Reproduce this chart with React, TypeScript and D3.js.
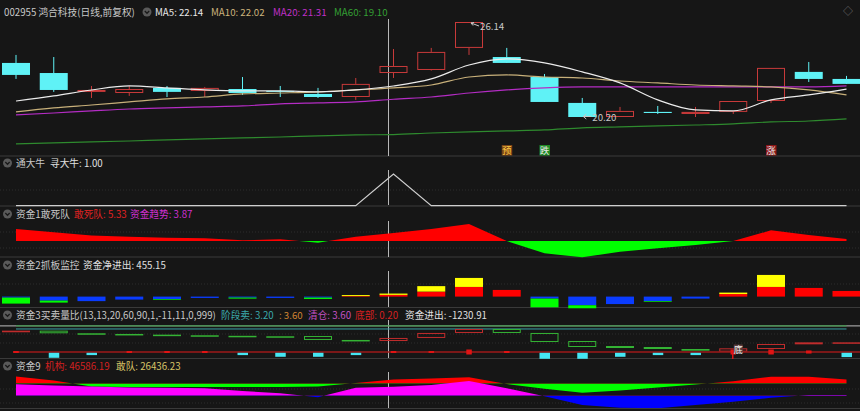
import { useEffect } from 'react'
import * as d3 from 'd3'

const N = 23
const idx = d3.range(N)

// 主图 K线 (日线, 前复权)
const open  = [23.58, 22.95, 21.77, 21.70, 22.02, 21.83, 21.95, 21.83, 21.64, 21.45, 22.95, 23.14, 24.52, 23.95, 22.70, 21.08, 20.20, 20.52, 20.39, 20.52, 21.20, 23.02, 22.58]
const high  = [24.08, 23.95, 22.14, 22.14, 22.14, 22.08, 22.70, 22.14, 22.02, 22.64, 24.45, 24.52, 26.14, 24.52, 22.89, 21.39, 20.83, 20.89, 20.83, 21.20, 23.27, 23.64, 22.77]
const low   = [22.58, 21.77, 21.39, 21.52, 21.45, 21.45, 21.58, 21.45, 21.39, 21.27, 22.64, 23.10, 24.08, 23.58, 21.14, 20.20, 20.20, 20.39, 20.20, 20.39, 21.08, 22.39, 22.27]
const close = [22.83, 21.89, 21.89, 21.95, 21.77, 22.02, 21.70, 21.77, 21.45, 22.27, 23.39, 24.27, 26.14, 23.58, 21.14, 20.20, 20.58, 20.45, 20.52, 21.20, 23.27, 22.58, 22.27]

const ma5  = [21.20, 21.52, 21.89, 22.14, 22.02, 21.89, 21.83, 21.83, 21.77, 21.89, 22.14, 22.58, 23.45, 23.83, 23.58, 23.02, 22.33, 21.27, 20.64, 20.58, 21.27, 21.58, 21.95]
const ma10 = [20.52, 20.77, 20.95, 21.14, 21.33, 21.45, 21.64, 21.70, 21.77, 21.89, 22.02, 22.20, 22.70, 22.83, 22.70, 22.64, 22.45, 22.33, 22.20, 22.14, 22.08, 21.89, 21.58]
const ma20 = [20.33, 20.45, 20.58, 20.70, 20.77, 20.83, 20.89, 21.02, 21.08, 21.14, 21.31, 21.45, 21.70, 21.89, 22.02, 22.08, 22.08, 22.08, 22.08, 22.08, 22.08, 22.08, 22.14]
const ma60 = [18.52, 18.58, 18.64, 18.70, 18.77, 18.83, 18.89, 18.95, 19.02, 19.08, 19.10, 19.20, 19.27, 19.33, 19.39, 19.52, 19.58, 19.64, 19.70, 19.77, 19.89, 19.95, 20.08]

// 信号 (预 / 跌 / 涨)
const signalIdx = [13, 14, 20]
const signalText = ['预', '跌', '涨']

// 通大牛
const bull = [0, 0, 0, 0, 0, 0, 0, 0, 0, 0, 1, 0, 0, 0, 0, 0, 0, 0, 0, 0, 0, 0, 0]

// 资金1敢死队
const dsd = [8.0, 5.8, 3.6, 2.9, 2.2, 1.8, 0.5, 1.1, -1.1, 2.9, 5.33, 8.0, 11.4, 0, -8.2, -10.9, -7.1, -4.9, -2.7, 0, 7.1, 4.0, 1.3]

// 资金2抓板监控
const redBar    = [0, 0, 0, 0, 0, 0, 0, 0, 0, 80, 255, 750, 1450, 1000, 0, 0, 0, 0, 0, 380, 1450, 1300, 850]
const yellowBar = [0, 0, 0, 0, 0, 0, 0, 0, 0, 150, 200, 820, 1350, 0, 0, 0, 0, 0, 0, 220, 1800, 0, 0]
const blueBar   = [150, 600, 680, 450, 380, 200, 150, 200, 150, 0, 0, 0, 0, 0, 300, 1300, 1120, 680, 300, 0, 0, 0, 0]
const greenBar  = [900, 300, 0, 0, 100, 0, 150, 0, 200, 0, 0, 0, 0, 0, 1300, 450, 0, 100, 0, 0, 0, 0, 0]

// 资金3买卖量比
const ratioOpen  = [2.77, 2.98, 2.64, 2.55, 2.46, 2.38, 2.31, 2.25, 2.28, 1.77, 1.63, 2.03, 2.68, 3.20, 2.68, 1.63, 0.98, 0.85, 0.59, 0.24, 0.59, 1.20, 1.28]
const ratioClose = [2.98, 2.64, 2.55, 2.46, 2.38, 2.31, 2.25, 2.18, 1.77, 1.63, 2.03, 2.68, 3.20, 2.68, 1.50, 0.85, 0.72, 0.59, 0.37, 0.68, 1.24, 1.46, 1.46]
const sellBars = [0, 0.65, 0.3, 0, 0, 0, 0.3, 0.52, 0.52, 0.3, 0, 0, 0, 0, 0.78, 0.78, 0.52, 0.3, 0.3, 0, 0, 0, 0.56]
const buyMarks = [0.26, 0, 0, 0.26, 0.26, 0.26, 0, 0, 0, 0, 0.26, 0.26, 0.65, 0.26, 0, 0, 0, 0, 0, 0.65, 0.65, 0.4, 0]
const bottomIdx = 19
const stageSell = 3.2
const clearLine = 3.6
const bottomLine = 0.2

// 资金9 (万)
const jigou = [8.15, 3.5, -3.5, -4.1, -4.1, -4.1, -4.1, -4.1, -3.5, 0.6, 4.66, 5.8, 7.3, -0.6, -6.2, -10.8, -8.2, -4.7, -1.2, 2.7, 7.8, 7.8, 4.7]
const gandui = [3.35, 3.0, 2.7, 2.41, 2.35, 2.17, 1.38, 0.7, -0.44, 2.35, 2.64, 3.14, 4.32, 2.17, -0.15, -2.73, -3.52, -3.70, -2.73, -1.76, -0.59, 0.21, 0.21]

const cursorIdx = 10

const FONT = "'Noto Sans CJK SC', 'Noto Sans', sans-serif"
const BG = '#161616'
const SEP = '#3a3a3a'
const UP = '#c83a3a'
const DOWN = '#5ff2f6'

const x = d3.scalePoint<number>().domain(idx).range([16, 846.5])
const cw = 28

function Icon({ cx, cy }: { cx: number; cy: number }) {
  return (
    <g>
      <circle cx={cx} cy={cy} r={4.5} fill="#5a5a5a" />
      <path d={`M${cx - 2.2},${cy - 1} L${cx},${cy + 1.3} L${cx + 2.2},${cy - 1}`} fill="none" stroke="#1a1a1a" strokeWidth={1.3} />
    </g>
  )
}

function Label({ x: tx, y, text, color = '#c8c8c8' }: { x: number; y: number; text: string; color?: string }) {
  return <text x={tx} y={y} fill={color} fontSize={9.7} fontFamily={FONT}>{text}</text>
}

// split area: positive colour above zero, negative below
function SignedArea({ id, data, y, top, bottom, pos, neg }: {
  id: string; data: number[]; y: d3.ScaleLinear<number, number>; top: number; bottom: number; pos: string; neg: string
}) {
  const z = y(0)
  const area = d3.area<number>().x((_, i) => x(i)!).y0(z).y1(d => y(d))
  const d = area(data) ?? ''
  return (
    <g>
      <defs>
        <clipPath id={`${id}-p`}><rect x={0} y={top} width={860} height={z - top} /></clipPath>
        <clipPath id={`${id}-n`}><rect x={0} y={z} width={860} height={bottom - z} /></clipPath>
      </defs>
      <path d={d} fill={pos} clipPath={`url(#${id}-p)`} />
      <path d={d} fill={neg} clipPath={`url(#${id}-n)`} />
    </g>
  )
}

export default function App() {
  useEffect(() => {
    document.body.style.margin = '0'
    document.body.style.background = BG
  }, [])

  // scales
  const yMain = d3.scaleLinear().domain([20.20, 26.14]).range([117, 22])
  const yBull = d3.scaleLinear().domain([0, 1]).range([205.7, 174])
  const yDsd = d3.scaleLinear().domain([-10.67, 10.67]).range([257, 225])
  const yZb = d3.scaleLinear().domain([-1500, 3000]).range([306.6, 276.6])
  const yRatio = d3.scaleLinear().domain([bottomLine, clearLine]).range([352, 325.9])
  const yA = d3.scaleLinear().domain([-11.65, 11.65]).range([393.5, 373.5])
  const yB = d3.scaleLinear().domain([-2.937, 2.937]).range([405.7, 385.7])

  const maLine = (arr: number[]) =>
    d3.line<number>().x((_, i) => x(i)!).y(d => yMain(d)).curve(d3.curveMonotoneX)(arr) ?? ''

  const bullLine = d3.line<number>().x((_, i) => x(i)!).y(d => yBull(d))(bull) ?? ''

  const seps = [156, 206, 257, 307.5, 358.5, 408.5]
  const grids = [190, 232, 248, 284, 334, 343, 389, 403]
  const bodies: [number, number][] = [[19, 156], [170, 205], [221, 257], [271, 307], [320, 358], [372, 408]]
  const cx = x(cursorIdx)! - 5

  const hiIdx = d3.maxIndex(high)
  const loIdx = d3.minIndex(low)

  return (
    <div style={{ position: 'fixed', left: 0, top: 0, width: 860, height: 411, background: BG }}>
      <svg width={860} height={411} style={{ display: 'block' }}>
        <rect width={860} height={411} fill={BG} />

        {/* grid */}
        {grids.map(g => (
          <line key={g} x1={0} x2={860} y1={g} y2={g} stroke="#2c2c2c" strokeDasharray="1,2" />
        ))}
        {seps.map(s => (
          <line key={s} x1={0} x2={860} y1={s} y2={s} stroke={SEP} strokeWidth={1} />
        ))}

        {/* cursor */}
        {bodies.map(([a, b]) => (
          <line key={a} x1={cx} x2={cx} y1={a} y2={b} stroke="#b8b8b8" strokeWidth={1} />
        ))}

        {/* ===== 主图 ===== */}
        <Label x={4} y={15.5} text="002955 鸿合科技(日线,前复权)" />
        <Icon cx={147} cy={12} />
        <Label x={155} y={15.5} text="MA5: 22.14" color="#e8e8e8" />
        <Label x={211} y={15.5} text="MA10: 22.02" color="#cdb47c" />
        <Label x={273} y={15.5} text="MA20: 21.31" color="#c030c8" />
        <Label x={334} y={15.5} text="MA60: 19.10" color="#34a034" />
        <text x={843} y={15} fill="#777" fontSize={10} fontFamily={FONT}>◇</text>

        {idx.map(i => {
          const up = close[i] >= open[i]
          const xc = x(i)!
          const top = yMain(Math.max(open[i], close[i]))
          const bot = yMain(Math.min(open[i], close[i]))
          const h = Math.max(bot - top, 1)
          if (up) {
            return (
              <g key={i} stroke={UP} strokeWidth={1}>
                <line x1={xc} x2={xc} y1={yMain(high[i])} y2={top} />
                <line x1={xc} x2={xc} y1={top + h} y2={yMain(low[i])} />
                <rect x={xc - cw / 2 + 0.5} y={top + 0.5} width={cw - 1} height={Math.max(h - 1, 0.5)} fill={h < 3 ? UP : 'none'} />
              </g>
            )
          }
          return (
            <g key={i}>
              <line x1={xc} x2={xc} y1={yMain(high[i])} y2={yMain(low[i])} stroke={DOWN} />
              <rect x={xc - cw / 2} y={top} width={cw} height={h} fill={DOWN} />
            </g>
          )
        })}

        <path d={maLine(ma60)} fill="none" stroke="#2e8a2e" strokeWidth={1.2} />
        <path d={maLine(ma20)} fill="none" stroke="#b42cc4" strokeWidth={1.2} />
        <path d={maLine(ma10)} fill="none" stroke="#c8b07a" strokeWidth={1.2} />
        <path d={maLine(ma5)} fill="none" stroke="#ececec" strokeWidth={1.2} />

        {/* 最高/最低 */}
        <g stroke="#c8c8c8" strokeWidth={1} fill="none">
          <line x1={x(hiIdx)! + 2} y1={yMain(high[hiIdx]) + 1} x2={x(hiIdx)! + 10} y2={yMain(high[hiIdx]) + 4} />
          <path d={`M${x(hiIdx)! + 5},${yMain(high[hiIdx]) + 0.5} L${x(hiIdx)! + 2},${yMain(high[hiIdx]) + 1} L${x(hiIdx)! + 4},${yMain(high[hiIdx]) + 3.5}`} />
          <line x1={x(loIdx)! + 1} y1={yMain(low[loIdx]) - 0.5} x2={x(loIdx)! + 9} y2={yMain(low[loIdx]) - 0.5} />
          <path d={`M${x(loIdx)! + 4},${yMain(low[loIdx]) - 3} L${x(loIdx)! + 1},${yMain(low[loIdx]) - 0.5} L${x(loIdx)! + 4},${yMain(low[loIdx]) + 2}`} />
        </g>
        <Label x={x(hiIdx)! + 11} y={yMain(high[hiIdx]) + 8} text={high[hiIdx].toFixed(2)} />
        <Label x={x(loIdx)! + 10} y={yMain(low[loIdx]) + 3.5} text={low[loIdx].toFixed(2)} />

        {signalIdx.map((si, k) => {
          const bg = k === 0 ? '#7a4416' : k === 1 ? '#1d8a24' : '#8c1616'
          const fg = k === 0 ? '#ffcc44' : '#e6e6e6'
          return (
            <g key={si}>
              <rect x={x(si)! - 5} y={145} width={10.5} height={10.5} fill={bg} />
              <text x={x(si)!} y={154} fill={fg} fontSize={9.5} textAnchor="middle" fontFamily={FONT}>{signalText[k]}</text>
            </g>
          )
        })}

        {/* ===== 通大牛 ===== */}
        <Icon cx={7.5} cy={163} />
        <Label x={16} y={166.5} text="通大牛" />
        <Label x={50} y={166.5} text="寻大牛: 1.00" color="#e0e0e0" />
        <path d={bullLine} fill="none" stroke="#cfcfcf" strokeWidth={1.2} />

        {/* ===== 资金1敢死队 ===== */}
        <Icon cx={7.5} cy={214} />
        <Label x={16} y={217.5} text="资金1敢死队" />
        <Label x={74} y={217.5} text="敢死队: 5.33" color="#e02222" />
        <Label x={130} y={217.5} text="资金趋势: 3.87" color="#d030d0" />
        <SignedArea id="dsd" data={dsd} y={yDsd} top={221} bottom={258} pos="#ff0000" neg="#00ff00" />

        {/* ===== 资金2抓板监控 ===== */}
        <Icon cx={7.5} cy={265} />
        <Label x={16} y={268.5} text="资金2抓板监控" />
        <Label x={83} y={268.5} text="资金净进出: 455.15" color="#e0e0e0" />
        {idx.map(i => {
          const xl = x(i)! - cw / 2
          const z = yZb(0)
          const r = z - yZb(redBar[i])
          const yl = yZb(0) - yZb(yellowBar[i])
          const b = yZb(-blueBar[i]) - z
          const g = yZb(-greenBar[i]) - yZb(0)
          return (
            <g key={i}>
              {r > 0 && <rect x={xl} y={z - r} width={cw} height={r} fill="#ff0000" />}
              {yl > 0 && <rect x={xl} y={z - r - yl} width={cw} height={yl} fill="#ffff00" />}
              {b > 0 && <rect x={xl} y={z} width={cw} height={b} fill="#0a3cff" />}
              {g > 0 && <rect x={xl} y={z + b} width={cw} height={g} fill="#00ff00" />}
            </g>
          )
        })}

        {/* ===== 资金3买卖量比 ===== */}
        <Icon cx={7.5} cy={315} />
        <Label x={16} y={318.5} text="资金3买卖量比(13,13,20,60,90,1,-11,11,0,999)" />
        <Label x={221} y={318.5} text="阶段卖: 3.20" color="#3aa8aa" />
        <Label x={279} y={318.5} text=": 3.60" color="#d08432" />
        <Label x={308} y={318.5} text="清仓: 3.60" color="#c452c4" />
        <Label x={355} y={318.5} text="底部: 0.20" color="#d42020" />
        <Label x={405} y={318.5} text="资金进出: -1230.91" color="#e0e0e0" />
        <line x1={0} x2={860} y1={yRatio(clearLine)} y2={yRatio(clearLine)} stroke="#bdbdbd" />
        <line x1={x(0)!} x2={x(N - 1)!} y1={yRatio(clearLine)} y2={yRatio(clearLine)} stroke="#2f9a3e" />
        <line x1={x(0)!} x2={x(N - 1)!} y1={yRatio(stageSell)} y2={yRatio(stageSell)} stroke="#3aa0a6" />
        {idx.map(i => {
          const up = ratioClose[i] >= ratioOpen[i]
          const col = up ? '#c02c2c' : '#34b434'
          const top = yRatio(Math.max(ratioOpen[i], ratioClose[i]))
          const h = yRatio(Math.min(ratioOpen[i], ratioClose[i])) - top
          const xl = x(i)! - cw / 2
          return h < 2.5
            ? <rect key={i} x={xl} y={top} width={cw} height={Math.max(h, 1.5)} fill={col} />
            : <rect key={i} x={xl + 0.5} y={top + 0.5} width={cw - 1} height={h - 1} fill="none" stroke={col} />
        })}
        <line x1={13} x2={860} y1={yRatio(bottomLine)} y2={yRatio(bottomLine)} stroke="#9e1a1a" strokeWidth={1.6} />
        {idx.map(i => sellBars[i] > 0 && (
          <rect key={i} x={x(i)! - 5} y={yRatio(bottomLine) + 0.8} width={10.5}
            height={yRatio(bottomLine - sellBars[i]) - yRatio(bottomLine)} fill="#45e6f2" />
        ))}
        {idx.map(i => {
          if (!buyMarks[i]) return null
          const h = yRatio(bottomLine - buyMarks[i]) - yRatio(bottomLine)
          return <rect key={i} x={x(i)! - 2.7} y={yRatio(bottomLine) - h / 2} width={5.5} height={h} fill="#e01414" />
        })}
        <line x1={x(bottomIdx)! - 0.5} x2={x(bottomIdx)! - 0.5} y1={yRatio(bottomLine)} y2={yRatio(bottomLine) + 7} stroke="#e01414" strokeWidth={1.5} />
        <rect x={x(bottomIdx)! + 0.5} y={344.5} width={9} height={9} fill="#5a3a3a" />
        <text x={x(bottomIdx)! + 5} y={352.5} fill="#eeeeee" fontSize={9} textAnchor="middle" fontFamily={FONT}>底</text>

        {/* ===== 资金9 ===== */}
        <Icon cx={7.5} cy={366} />
        <Label x={16} y={369.5} text="资金9" />
        <Label x={45} y={369.5} text="机构: 46586.19" color="#d42020" />
        <Label x={116} y={369.5} text="敢队: 26436.23" color="#d8c466" />
        <SignedArea id="jg" data={jigou} y={yA} top={372} bottom={408} pos="#ff0000" neg="#00ff00" />
        <SignedArea id="gd" data={gandui} y={yB} top={372} bottom={408} pos="#ff00ff" neg="#0000ff" />
      </svg>
    </div>
  )
}
